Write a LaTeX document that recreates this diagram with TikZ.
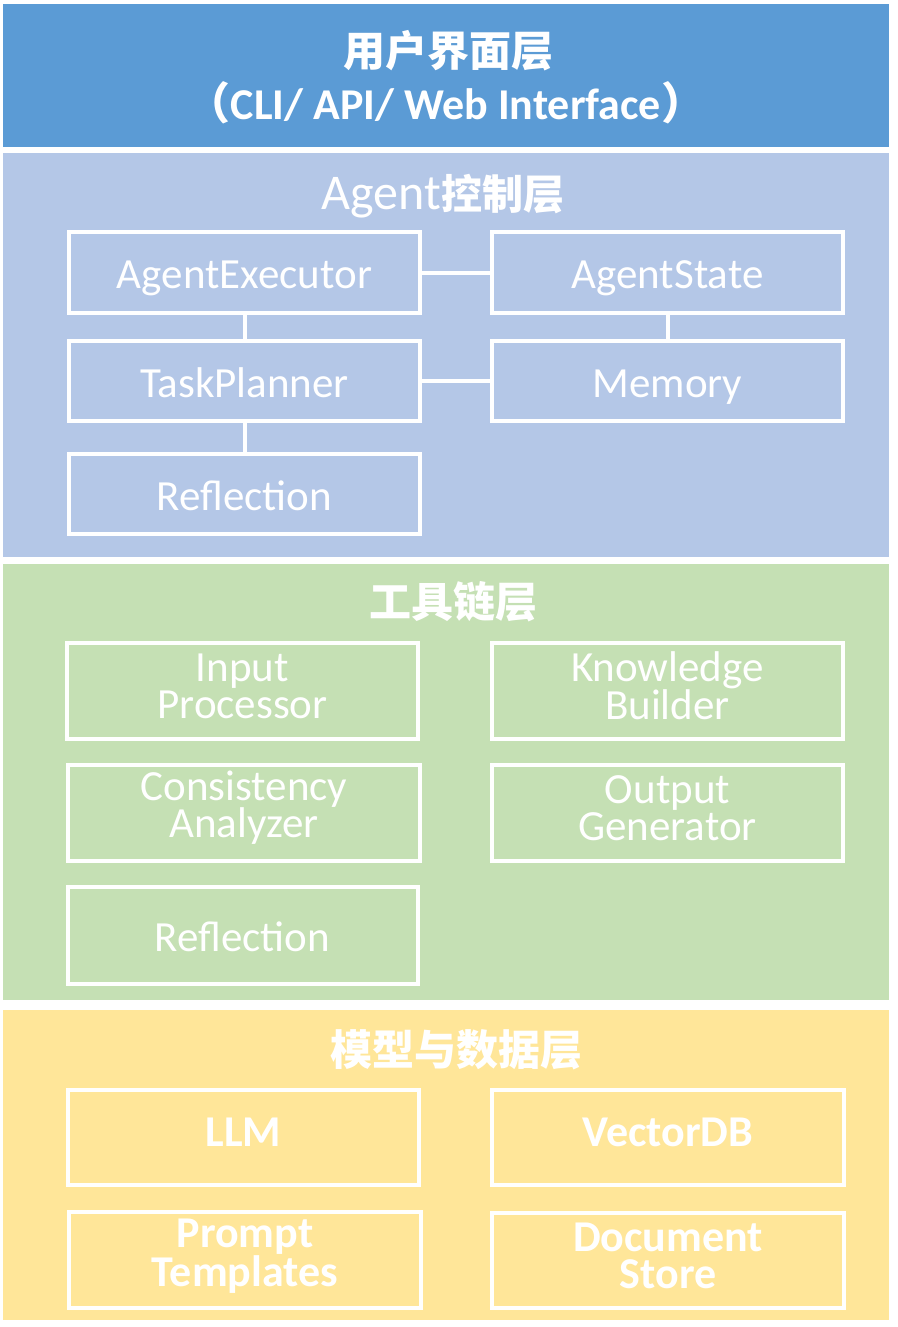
\documentclass[tikz,border=0pt]{standalone}
\usepackage{fontspec}
\setmainfont{Carlito}
\newfontfamily\cjk{Noto Sans CJK SC}
\definecolor{topblue}{HTML}{5B9BD5}
\definecolor{agentblue}{HTML}{B4C7E7}
\definecolor{toolgreen}{HTML}{C5E0B4}
\definecolor{modelyellow}{HTML}{FFE699}
\begin{document}
\begin{tikzpicture}[x=1pt,y=-1pt,
  box/.style={draw=white, line width=4pt, text=white, align=center, inner sep=0pt,
    font=\fontsize{43}{37}\selectfont},
  oneline/.style={text height=32pt, text depth=0pt},
  boldbox/.style={box, font=\fontsize{44}{37}\selectfont\bfseries},
  boldone/.style={text height=28pt, text depth=10pt},
  link/.style={draw=white, line width=4pt},
  title/.style={text=white, inner sep=0pt, align=center},
  cjktitle/.style={title, font=\cjk\bfseries\fontsize{42}{44}\selectfont}
]
\useasboundingbox (0,0) rectangle (897,1327);
\fill[white] (0,0) rectangle (897,1327);

% bands
\fill[topblue] (3,4) rectangle (889,147);
\fill[agentblue] (3,153) rectangle (889,557);
\fill[toolgreen] (3,564) rectangle (889,1000);
\fill[modelyellow] (3,1010) rectangle (889,1320);

% top layer
\node[cjktitle] (t1) at (448,51) {用户界面层};
\node[title, font=\fontsize{44}{48}\selectfont\bfseries] (t1b) at (446,103)
  {{\cjk （}CLI/ API/ Web Interface{\cjk ）}};

% agent layer
\node[title] (t2) at (443,196) {{\fontsize{50}{52}\selectfont Agent}{\cjk\bfseries\fontsize{41}{44}\selectfont 控制层}};
\node[box, oneline, minimum width=351pt, minimum height=81pt] (ae) at (244.5,272.5) {AgentExecutor};
\node[box, oneline, minimum width=351pt, minimum height=81pt] (as) at (667.5,272.5) {AgentState};
\node[box, oneline, minimum width=351pt, minimum height=80pt] (tp) at (244.5,381) {TaskPlanner};
\node[box, oneline, minimum width=351pt, minimum height=80pt] (mem) at (667.5,381) {Memory};
\node[box, oneline, minimum width=351pt, minimum height=80pt] (ref1) at (244.5,494) {Reflection};
\draw[link] (ae) -- (as);
\draw[link] (ae) -- (tp);
\draw[link] (as) -- (mem);
\draw[link] (tp) -- (mem);
\draw[link] (tp) -- (ref1);

% tool layer
\node[cjktitle] (t3) at (453,602) {工具链层};
\node[box, minimum width=351pt, minimum height=96pt] (ip) at (242.5,691) {};
\node[title, font=\fontsize{43}{37}\selectfont] (ipt) at ([yshift=5pt]ip.center) {Input\\Processor};
\node[box, minimum width=351pt, minimum height=96pt] (kb) at (667.5,691) {};
\node[title, font=\fontsize{43}{37}\selectfont] (kbt) at ([yshift=5pt]kb.center) {Knowledge\\Builder};
\node[box, minimum width=352pt, minimum height=96pt] (ca) at (244,813) {};
\node[title, font=\fontsize{43}{37}\selectfont] (cat) at ([yshift=5pt]ca.center) {Consistency\\Analyzer};
\node[box, minimum width=351pt, minimum height=96pt] (og) at (667.5,813) {};
\node[title, font=\fontsize{43}{37}\selectfont] (ogt) at ([yshift=5pt]og.center) {Output\\Generator};
\node[box, oneline, minimum width=350pt, minimum height=97pt] (ref2) at (242.5,935.5) {Reflection};

% model layer
\node[cjktitle] (t4) at (456,1050) {模型与数据层};
\node[boldbox, boldone, minimum width=351pt, minimum height=95pt] (llm) at (243.5,1137.5) {LLM};
\node[boldbox, boldone, minimum width=352pt, minimum height=95pt] (vdb) at (668,1137.5) {VectorDB};
\node[boldbox, minimum width=352pt, minimum height=96pt] (pt) at (245,1260) {};
\node[title, font=\fontsize{44}{37}\selectfont\bfseries] (ptt) at ([yshift=4pt]pt.center) {Prompt\\Templates};
\node[boldbox, minimum width=352pt, minimum height=95pt] (ds) at (668,1260.5) {};
\node[title, font=\fontsize{44}{37}\selectfont\bfseries] (dst) at ([yshift=5pt]ds.center) {Document\\Store};
\end{tikzpicture}
\end{document}
